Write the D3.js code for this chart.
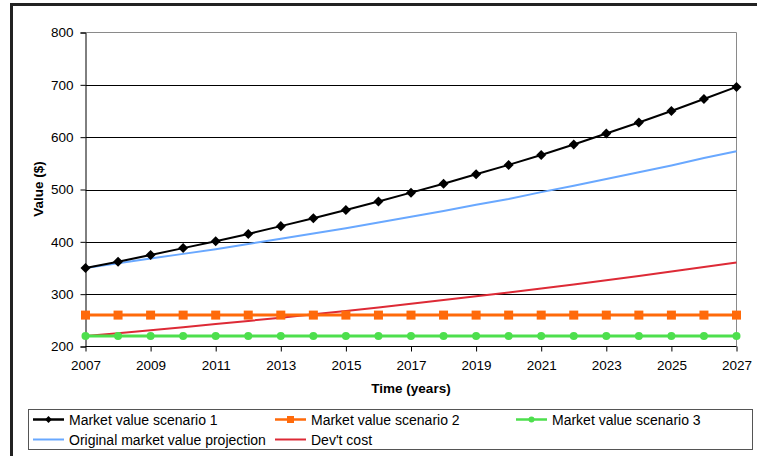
<!DOCTYPE html>
<html>
<head>
<meta charset="utf-8">
<script src="https://cdn.jsdelivr.net/npm/d3@7"></script>
<style>
  html, body { margin: 0; padding: 0; background: #fff; }
  svg { display: block; font-family: "Liberation Sans", Arial, sans-serif; }
</style>
</head>
<body>
<svg id="chart" width="757" height="456"></svg>
<script>
// Years on the category axis
const years = d3.range(2007, 2028);
const xTickLabels = ["2007","2009","2011","2013","2015","2017","2019","2021","2023","2025","2027"];
const yTicks = [200, 300, 400, 500, 600, 700, 800];

// Series values, one per year
const scenario1 = [350, 362, 375, 388, 401, 415, 430, 445, 461, 477, 494, 511, 529, 547, 566, 586, 607, 628, 650, 673, 696];
const scenario2 = [260, 260, 260, 260, 260, 260, 260, 260, 260, 260, 260, 260, 260, 260, 260, 260, 260, 260, 260, 260, 260];
const scenario3 = [220, 220, 220, 220, 220, 220, 220, 220, 220, 220, 220, 220, 220, 220, 220, 220, 220, 220, 220, 220, 220];
const originalProjection = [350, 359, 368, 377, 386, 396, 406, 416, 426, 437, 448, 459, 471, 482, 495, 507, 520, 533, 546, 560, 573];
const devCost = [220, 225.5, 231.1, 236.9, 242.8, 248.9, 255.1, 261.5, 268, 274.7, 281.6, 288.7, 295.9, 303.3, 310.9, 318.6, 326.6, 334.8, 343.1, 351.7, 360.5];

const seriesNames = ["Market value scenario 1", "Market value scenario 2", "Market value scenario 3",
                     "Original market value projection", "Dev't cost"];

const svg = d3.select("#chart");

// Outer chart frame (continues past the right and bottom edges)
svg.append("rect")
  .attr("x", 11.5).attr("y", 4.5)
  .attr("width", 800).attr("height", 500)
  .attr("fill", "none").attr("stroke", "#222").attr("stroke-width", 3);

const plot = { left: 85.5, right: 736.5, top: 32.5, bottom: 346.5 };

const x = d3.scaleLinear().domain([2007, 2027]).range([plot.left, plot.right]);
const y = d3.scaleLinear().domain([200, 800]).range([plot.bottom, plot.top]);

// Plot area border (top & right in gray)
svg.append("path")
  .attr("d", `M${plot.left},${plot.top}H${plot.right}V${plot.bottom}`)
  .attr("fill", "none").attr("stroke", "#8a8a8a").attr("stroke-width", 1);

// Horizontal gridlines
svg.append("g").selectAll("line")
  .data(yTicks.filter(v => v > 200 && v < 800))
  .join("line")
  .attr("x1", plot.left).attr("x2", plot.right)
  .attr("y1", d => Math.round(y(d)) + 0.5).attr("y2", d => Math.round(y(d)) + 0.5)
  .attr("stroke", "#000").attr("stroke-width", 1);

const fontFamily = "'Liberation Sans', Arial, sans-serif";

// Y axis
const yAxis = d3.axisLeft(y).tickValues(yTicks).tickSize(5).tickPadding(7).tickFormat(d3.format("d"));
const gy = svg.append("g").attr("transform", `translate(${plot.left},0)`).call(yAxis);
gy.select(".domain").attr("stroke", "#000");
gy.selectAll(".tick line").attr("stroke", "#000");
gy.selectAll("text").attr("font-size", 13.5).attr("fill", "#000")
  .attr("font-family", fontFamily);

// X axis
const xAxis = d3.axisBottom(x).tickValues(xTickLabels.map(Number)).tickSize(5).tickPadding(9)
  .tickFormat((d, i) => xTickLabels[i]);
const gx = svg.append("g").attr("transform", `translate(0,${plot.bottom})`).call(xAxis);
gx.select(".domain").attr("stroke", "#000").attr("d", `M${plot.left},0H${plot.right}`);
gx.selectAll(".tick line").attr("stroke", "#000");
gx.selectAll("text").attr("font-size", 13.5).attr("fill", "#000")
  .attr("font-family", fontFamily);

// Axis titles
svg.append("text")
  .attr("x", 411).attr("y", 392.5)
  .attr("text-anchor", "middle").attr("font-size", 13.5).attr("font-weight", "bold")
  .text("Time (years)");
svg.append("text")
  .attr("transform", "translate(43,189) rotate(-90)")
  .attr("text-anchor", "middle").attr("font-size", 13.5).attr("font-weight", "bold")
  .text("Value ($)");

const line = d3.line().x((d, i) => x(years[i])).y(d => y(d));

const colors = {
  s1: "#000000",
  s2: "#ff6a0a",
  s3: "#4ddf4d",
  orig: "#69a8ff",
  dev: "#dd2a36"
};

// Lines without markers
svg.append("path").datum(originalProjection).attr("d", line)
  .attr("fill", "none").attr("stroke", colors.orig).attr("stroke-width", 2);
svg.append("path").datum(devCost).attr("d", line)
  .attr("fill", "none").attr("stroke", colors.dev).attr("stroke-width", 2);

// Scenario 3: green circles
svg.append("path").datum(scenario3).attr("d", line)
  .attr("fill", "none").attr("stroke", colors.s3).attr("stroke-width", 3);
svg.append("g").selectAll("circle").data(scenario3).join("circle")
  .attr("cx", (d, i) => x(years[i])).attr("cy", d => y(d)).attr("r", 4)
  .attr("fill", colors.s3);

// Scenario 2: orange squares
svg.append("path").datum(scenario2).attr("d", line)
  .attr("fill", "none").attr("stroke", colors.s2).attr("stroke-width", 3);
svg.append("g").selectAll("rect").data(scenario2).join("rect")
  .attr("x", (d, i) => x(years[i]) - 4.5).attr("y", d => y(d) - 4.5)
  .attr("width", 9).attr("height", 9).attr("fill", colors.s2);

// Scenario 1: black diamonds
svg.append("path").datum(scenario1).attr("d", line)
  .attr("fill", "none").attr("stroke", colors.s1).attr("stroke-width", 2);
const diamond = d3.symbol().type(d3.symbolDiamond2).size(64);
svg.append("g").selectAll("path").data(scenario1).join("path")
  .attr("transform", (d, i) => `translate(${x(years[i])},${y(d)})`)
  .attr("d", diamond).attr("fill", colors.s1);

// Legend
const legend = svg.append("g");
legend.append("rect")
  .attr("x", 28.5).attr("y", 409.5).attr("width", 724).attr("height", 40)
  .attr("fill", "#fff").attr("stroke", "#555").attr("stroke-width", 1);

const legendItems = [
  { name: seriesNames[0], color: colors.s1, marker: "diamond", col: 0, row: 0 },
  { name: seriesNames[1], color: colors.s2, marker: "square", col: 1, row: 0 },
  { name: seriesNames[2], color: colors.s3, marker: "circle", col: 2, row: 0 },
  { name: seriesNames[3], color: colors.orig, marker: null, col: 0, row: 1 },
  { name: seriesNames[4], color: colors.dev, marker: null, col: 1, row: 1 }
];
const colX = [33, 275, 516];
const rowY = [419.5, 439.5];

legendItems.forEach(item => {
  const gx0 = colX[item.col], gy0 = rowY[item.row];
  const g = legend.append("g");
  g.append("line").attr("x1", gx0).attr("x2", gx0 + 31).attr("y1", gy0).attr("y2", gy0)
    .attr("stroke", item.color).attr("stroke-width", item.marker ? 2.5 : 2);
  const cx = gx0 + 15.5;
  if (item.marker === "diamond") {
    g.append("path").attr("transform", `translate(${cx},${gy0})`)
      .attr("d", d3.symbol().type(d3.symbolDiamond2).size(30)).attr("fill", item.color);
  } else if (item.marker === "square") {
    g.append("rect").attr("x", cx - 3.5).attr("y", gy0 - 3.5).attr("width", 7).attr("height", 7)
      .attr("fill", item.color);
  } else if (item.marker === "circle") {
    g.append("circle").attr("cx", cx).attr("cy", gy0).attr("r", 3).attr("fill", item.color);
  }
  g.append("text").attr("x", gx0 + 36).attr("y", gy0 + 5)
    .attr("font-size", 14).attr("fill", "#000").text(item.name);
});
</script>
</body>
</html>
